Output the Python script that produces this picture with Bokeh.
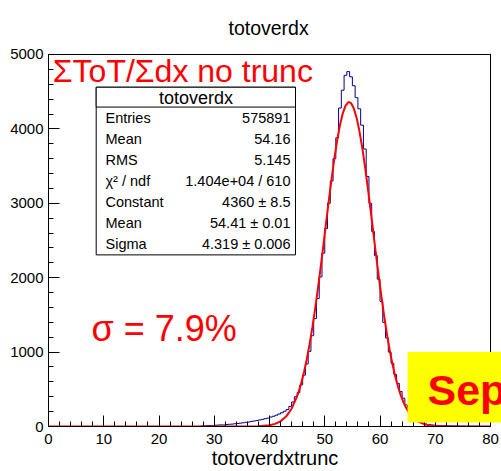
from bokeh.plotting import figure
from bokeh.models import Range1d, SingleIntervalTicker, Label, BoxAnnotation, Span
from bokeh.embed import file_html
from bokeh.resources import INLINE

# ---------------- data ----------------
bin_low = 0.0
bin_width = 0.5
# histogram counts, bins of 0.5 from 0 to 80
counts = [0] * 54 + [
    0, 6, 9, 11, 13, 12,                                   # 27.0 - 29.5
    17, 19, 22, 21, 27, 30, 32, 37, 41, 45,                # 30.0 - 34.5
    50, 56, 60, 68, 74, 80, 88, 96, 105, 113,              # 35.0 - 39.5
    127, 138, 152, 168, 185, 205, 228, 270, 330, 400,      # 40.0 - 44.5
    455, 560, 690, 840, 1010, 1220, 1450, 1720, 2010, 2330,  # 45.0 - 49.5
    2660, 3000, 3300, 3600, 3880, 4280, 4520, 4720, 4770, 4700,  # 50.0 - 54.5
    4580, 4420, 4270, 4050, 3730, 3360, 3000, 2620, 2300, 1980,  # 55.0 - 59.5
    1680, 1400, 1190, 1000, 850, 700, 580, 470, 380, 290,  # 60.0 - 64.5
    215, 160, 118, 88, 62, 45, 34, 27, 22, 18,            # 65.0 - 69.5
    15, 13, 11, 10, 9, 8, 7, 7, 6, 5,                      # 70.0 - 74.5
    5, 4, 4, 3, 3, 3, 2, 2, 2, 1,                          # 75.0 - 79.5
]

# fitted gaussian curve
fit_x = [0, 30, 34, 36, 38, 40, 41, 42, 43, 44, 45,
         45.25, 45.75, 46.25, 46.75, 47.25, 47.75, 48.25, 48.75, 49.25, 49.75,
         50.25, 50.75, 51.25, 51.75, 52.25, 52.75, 53.25, 53.75, 54.25, 54.41,
         54.75, 55.25, 55.75, 56.25, 56.75, 57.25, 57.75, 58.25, 58.75, 59.25,
         59.75, 60.25, 60.75, 61.25, 61.75, 62.25, 62.75, 63.25, 63.75, 64.25,
         64.75, 65.25, 66, 67, 68, 69, 70, 72, 74, 80]
fit_y = [0, 0, 0.1, 0.5, 3, 17, 35, 70, 133, 239, 406,
         460, 584, 732, 905, 1103, 1328, 1577, 1847, 2136, 2436,
         2742, 3045, 3336, 3607, 3847, 4050, 4206, 4309, 4357, 4360,
         4347, 4278, 4155, 3981, 3765, 3512, 3233, 2936, 2632, 2327,
         2030, 1748, 1485, 1244, 1028, 839, 676, 537, 421, 325,
         248, 187, 119, 62, 31, 14.5, 6.5, 1.1, 0.2, 0]

title_text = "totoverdx"
x_title = "totoverdxtrunc"
stats_header = "totoverdx"
stats_names = ["Entries", "Mean", "RMS", "\u03c7\u00b2 / ndf", "Constant", "Mean", "Sigma"]
stats_values = ["575891", "54.16", "5.145", "1.404e+04 / 610",
                "4360 \u00b1 8.5", "54.41 \u00b1 0.01", "4.319 \u00b1 0.006"]
label_main = "\u03a3ToT/\u03a3dx no trunc"
label_sigma = "\u03c3 = 7.9%"
label_sep = "Sep"

X_MIN, X_MAX = 0, 80
Y_MIN, Y_MAX = 0, 5000

FONT = "Liberation Sans"

# pixel geometry of the reference
XPX = 5.525   # px per x unit
YPX = 0.075   # px per count

# ---------------- figure ----------------
p = figure(width=501, height=471, output_backend="svg", toolbar_location=None,
           x_range=Range1d(X_MIN, X_MAX + 11 / XPX),
           y_range=Range1d(Y_MIN, Y_MAX + 1 / YPX))
p.min_border = 0
p.min_border_left = 48
p.min_border_right = 0
p.min_border_top = 53
p.min_border_bottom = 42
p.xgrid.visible = False
p.ygrid.visible = False
p.outline_line_color = None
p.background_fill_color = "white"
p.border_fill_color = "white"

p.title.text = title_text
p.title.align = "left"
p.title.offset = 180
p.title.standoff = 29
p.title.text_font = FONT
p.title.text_font_size = "19.5px"
p.title.text_font_style = "normal"
p.title.text_color = "black"

p.xaxis.ticker = SingleIntervalTicker(interval=10, num_minor_ticks=5)
p.yaxis.ticker = SingleIntervalTicker(interval=1000, num_minor_ticks=5)
p.xaxis.bounds = (X_MIN, X_MAX)
p.yaxis.bounds = (Y_MIN, Y_MAX)
for ax in (p.xaxis[0], p.yaxis[0]):
    ax.axis_line_color = "black"
    ax.major_tick_line_color = "black"
    ax.minor_tick_line_color = "black"
    ax.major_tick_in = 11
    ax.major_tick_out = 0
    ax.minor_tick_in = 5
    ax.minor_tick_out = 0
    ax.major_label_text_font = FONT
    ax.major_label_text_font_size = "15px"
    ax.major_label_text_color = "black"
p.xaxis.major_label_standoff = 7
p.yaxis.major_label_standoff = 5
p.xaxis.axis_label = x_title
p.xaxis.axis_label_text_font = FONT
p.xaxis.axis_label_text_font_size = "20px"
p.xaxis.axis_label_text_font_style = "normal"
p.xaxis.axis_label_text_color = "black"
p.xaxis.axis_label_standoff = 0

# frame top and right edges
p.line(x=[X_MIN, X_MAX], y=[Y_MAX, Y_MAX], line_color="black", line_width=1)
p.add_layout(Span(location=X_MAX, dimension="height", line_color="black", line_width=1))

# histogram (step outline)
edges = [bin_low + i * bin_width for i in range(len(counts) + 1)]
p.step(x=edges, y=counts + [counts[-1]], mode="after",
       line_color="#000090", line_width=1)

# fit curve
p.line(x=fit_x, y=fit_y, line_color="#ff0000", line_width=2)

# ---------------- annotations ----------------
def px_x(px):
    return (px - 48) / XPX

def px_y(py):
    return (429 - py) / YPX

def text_at(xp, baseline_px, txt, size, align="left", color="black", style="normal"):
    # shift so the rendered alphabetic baseline lands on baseline_px
    yy = px_y(baseline_px - 0.36 * size)
    p.add_layout(Label(x=px_x(xp), y=yy, text=txt, text_align=align,
                       text_baseline="alphabetic", text_font=FONT,
                       text_font_size=f"{size}px", text_font_style=style,
                       text_color=color))

# stats box
p.add_layout(BoxAnnotation(left=px_x(95.7), right=px_x(295), top=px_y(87), bottom=px_y(256),
                           fill_color="white", fill_alpha=1, line_color="black",
                           line_width=1, line_alpha=1))
p.add_layout(BoxAnnotation(left=px_x(95.7), right=px_x(295), top=px_y(87), bottom=px_y(107),
                           fill_color="white", fill_alpha=1, line_color="black",
                           line_width=1, line_alpha=1))
text_at(195.4, 104.0, stats_header, 18, align="center")
for i, (nm, vl) in enumerate(zip(stats_names, stats_values)):
    yb = 123.5 + 21.2 * i
    text_at(105, yb, nm, 14.5, align="left")
    text_at(290, yb, vl, 14.5, align="right")

# red texts
text_at(52.3, 82.3, label_main, 32, color="#ff0000")
text_at(91, 342.7, label_sigma, 36, color="#ff0000")

# yellow box with "Sep"
p.add_layout(BoxAnnotation(left=px_x(407), right=px_x(520), top=px_y(354), bottom=px_y(425),
                           fill_color="#ffff00", fill_alpha=1, line_alpha=0))
text_at(427, 408, label_sep, 43, color="#ff0000", style="bold")

open("out.html", "w").write(file_html(p, INLINE))
